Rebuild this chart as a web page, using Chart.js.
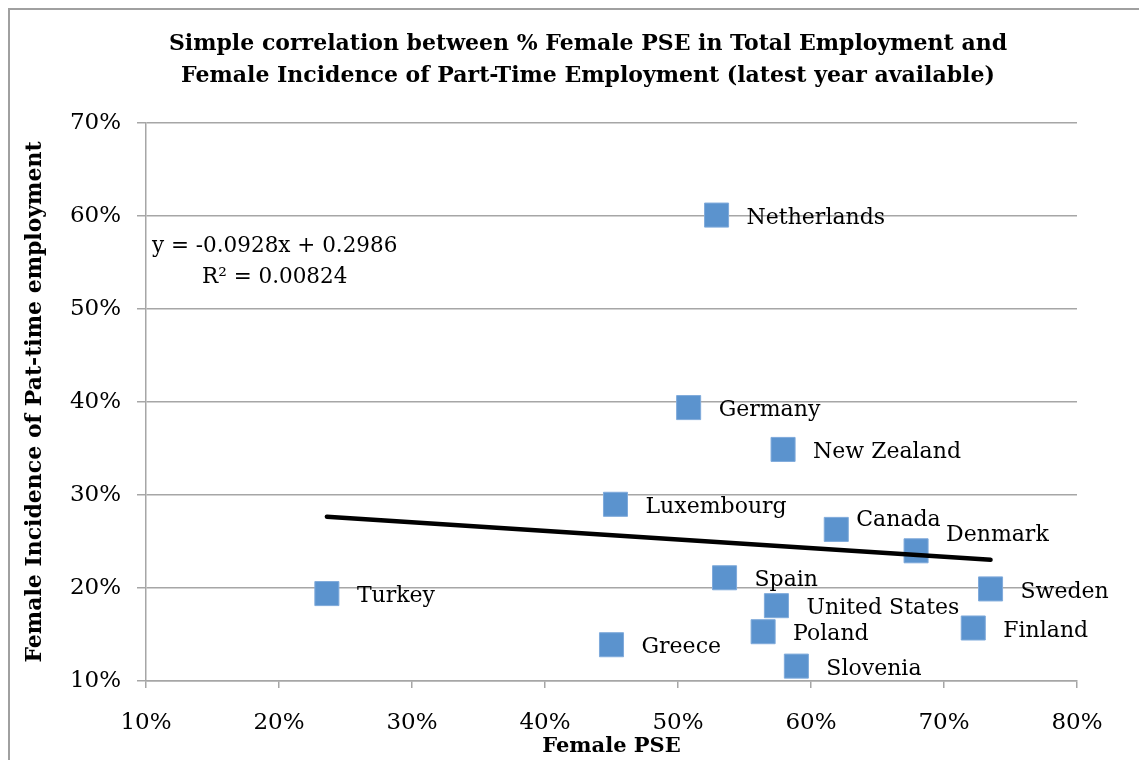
<!DOCTYPE html>
<html>
<head>
<meta charset="utf-8">
<title>Female PSE vs part-time employment</title>
<script src="https://cdn.jsdelivr.net/npm/chart.js@4.4.1/dist/chart.umd.min.js"></script>
<style>
  html, body { margin: 0; padding: 0; background: #fff; }
  #wrap { width: 1139px; height: 760px; position: relative; }
</style>
</head>
<body>
<div id="wrap"><canvas id="chart" width="1139" height="760"></canvas></div>
<script>
// ---------- Data ----------
const COUNTRIES = ['Netherlands', 'Germany', 'New Zealand', 'Luxembourg', 'Canada', 'Denmark', 'Turkey',
  'Spain', 'Sweden', 'United States', 'Finland', 'Poland', 'Greece', 'Slovenia'];
const FEMALE_PSE = [52.9, 50.8, 57.9, 45.3, 61.9, 67.9, 23.6, 53.5, 73.5, 57.4, 72.2, 56.4, 45.0, 58.9];
const PART_TIME = [60.1, 39.4, 34.9, 29.0, 26.3, 24.0, 19.4, 21.1, 19.9, 18.1, 15.7, 15.3, 13.9, 11.6];
const X_TICKS = [10, 20, 30, 40, 50, 60, 70, 80];
const Y_TICKS = [10, 20, 30, 40, 50, 60, 70];

// trendline from the Excel label (fractions)
const SLOPE = -0.0928;
const INTERCEPT = 0.2986;
const R2 = '0.00824';

const TITLE_LINES = [
  'Simple correlation between % Female PSE in Total Employment and',
  'Female Incidence of Part-Time Employment (latest year available)'
];

// a couple of labels were dragged by hand in the original
const LABEL_NUDGE = { Canada: [-10, -12], Denmark: [0, -19] };

const SERIF = '"DejaVu Serif", "Liberation Serif", serif';
const trendY = (x) => (SLOPE * x / 100 + INTERCEPT) * 100;
const xMin = Math.min(...FEMALE_PSE), xMax = Math.max(...FEMALE_PSE);

// ---------- Plugins ----------
const frame = {
  id: 'frame',
  beforeDraw(chart) {
    const c = chart.ctx;
    c.save();
    c.fillStyle = '#fff';
    c.fillRect(0, 0, chart.width, chart.height);
    // outer chart border (only top and left are in view)
    c.strokeStyle = '#a0a0a0';
    c.lineWidth = 2;
    c.beginPath();
    c.moveTo(9, chart.height);
    c.lineTo(9, 9);
    c.lineTo(chart.width, 9);
    c.stroke();
    // title
    c.fillStyle = '#000';
    c.font = 'bold 22px ' + SERIF;
    c.textAlign = 'center';
    c.textBaseline = 'middle';
    c.fillText(TITLE_LINES[0], 588, 44);
    c.fillText(TITLE_LINES[1], 588, 76);
    c.restore();
  }
};

const pointLabels = {
  id: 'pointLabels',
  afterDatasetsDraw(chart) {
    const c = chart.ctx;
    const meta = chart.getDatasetMeta(0);
    c.save();
    c.fillStyle = '#000';
    c.font = '22px ' + SERIF;
    c.textAlign = 'left';
    c.textBaseline = 'middle';
    meta.data.forEach((pt, i) => {
      const [dx, dy] = LABEL_NUDGE[COUNTRIES[i]] || [0, 0];
      c.fillText(COUNTRIES[i], pt.x + 30 + dx, pt.y + 3 + dy);
    });
    // trendline equation
    const a = chart.chartArea;
    c.font = '21.5px ' + SERIF;
    c.fillText('y = ' + SLOPE + 'x + ' + INTERCEPT, a.left + 6, a.top + 123);
    c.fillText('R² = ' + R2, a.left + 56, a.top + 154);
    c.restore();
  }
};

// ---------- Chart ----------
new Chart(document.getElementById('chart'), {
  type: 'scatter',
  data: {
    datasets: [{
      label: 'Countries',
      data: FEMALE_PSE.map((x, i) => ({ x, y: PART_TIME[i] })),
      pointStyle: 'rect',
      pointRadius: 17,
      pointHoverRadius: 17,
      backgroundColor: '#5B93CE',
      borderColor: '#7FAADB',
      borderWidth: 1,
      order: 1
    }, {
      type: 'line',
      label: 'Trend',
      data: [{ x: xMin, y: trendY(xMin) }, { x: xMax, y: trendY(xMax) }],
      borderColor: '#000',
      borderWidth: 4.5,
      borderCapStyle: 'round',
      pointRadius: 0,
      fill: false,
      order: 0
    }]
  },
  options: {
    responsive: false,
    animation: false,
    layout: { padding: { top: 123, right: 62, left: 0, bottom: 0 } },
    plugins: {
      legend: { display: false },
      tooltip: { enabled: false }
    },
    scales: {
      x: {
        type: 'linear',
        min: 10, max: 80,
        afterFit: (s) => { s.height = 79; },
        afterBuildTicks: (s) => { s.ticks = X_TICKS.map(v => ({ value: v })); },
        ticks: { callback: (v) => v + '%', font: { family: SERIF, size: 23 }, color: '#000', padding: 21, maxRotation: 0 },
        grid: { drawOnChartArea: false, drawTicks: true, tickLength: 7, color: '#a6a6a6', lineWidth: 1.5 },
        border: { display: true, color: '#a6a6a6', width: 1.5 },
        title: { display: true, text: 'Female PSE', color: '#000', font: { family: SERIF, size: 21, weight: 'bold' }, padding: { top: 1, bottom: 1 } }
      },
      y: {
        type: 'linear',
        min: 10, max: 70,
        afterFit: (s) => { s.width = 146; },
        afterBuildTicks: (s) => { s.ticks = Y_TICKS.map(v => ({ value: v })); },
        ticks: { callback: (v) => v + '%', font: { family: SERIF, size: 23 }, color: '#000', padding: 16 },
        grid: { color: '#a6a6a6', lineWidth: 1.5, tickLength: 9 },
        border: { display: true, color: '#a6a6a6', width: 1.5 },
        title: { display: true, text: 'Female Incidence of Pat-time employment', color: '#000', font: { family: SERIF, size: 22, weight: 'bold' }, padding: { top: 22, bottom: 22 } }
      }
    }
  },
  plugins: [frame, pointLabels]
});
</script>
</body>
</html>
